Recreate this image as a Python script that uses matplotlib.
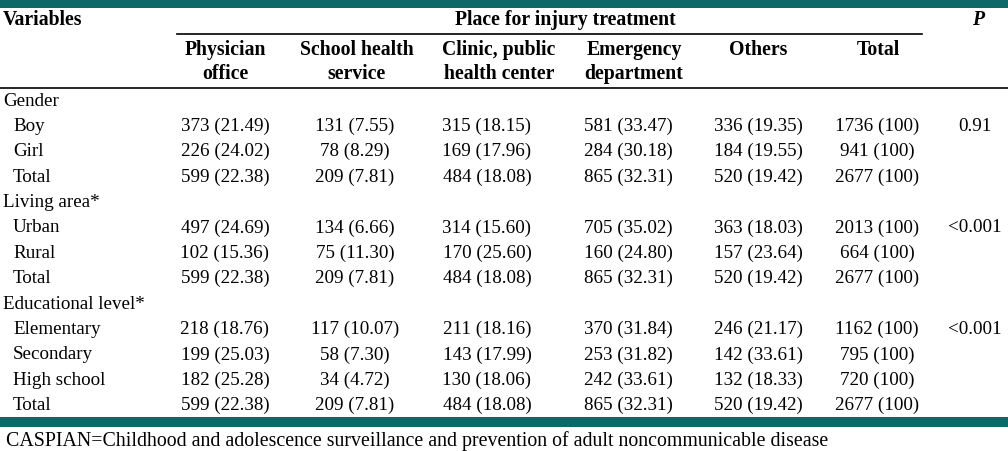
import matplotlib
matplotlib.use("Agg")
import matplotlib.pyplot as plt
from matplotlib.patches import Rectangle

plt.rcParams['font.family'] = ['Liberation Serif', 'DejaVu Serif']

# 表格数据
groups = ["Gender", "Living area*", "Educational level*"]
subgroups = [["Boy", "Girl", "Total"],
             ["Urban", "Rural", "Total"],
             ["Elementary", "Secondary", "High school", "Total"]]
col_headers = ["Physician\noffice", "School health\nservice", "Clinic, public\nhealth center",
               "Emergency\ndepartment", "Others", "Total"]

physician_n = [373, 226, 599, 497, 102, 599, 218, 199, 182, 599]
physician_pct = [21.49, 24.02, 22.38, 24.69, 15.36, 22.38, 18.76, 25.03, 25.28, 22.38]
school_n = [131, 78, 209, 134, 75, 209, 117, 58, 34, 209]
school_pct = [7.55, 8.29, 7.81, 6.66, 11.30, 7.81, 10.07, 7.30, 4.72, 7.81]
clinic_n = [315, 169, 484, 314, 170, 484, 211, 143, 130, 484]
clinic_pct = [18.15, 17.96, 18.08, 15.60, 25.60, 18.08, 18.16, 17.99, 18.06, 18.08]
emergency_n = [581, 284, 865, 705, 160, 865, 370, 253, 242, 865]
emergency_pct = [33.47, 30.18, 32.31, 35.02, 24.80, 32.31, 31.84, 31.82, 33.61, 32.31]
others_n = [336, 184, 520, 363, 157, 520, 246, 142, 132, 520]
others_pct = [19.35, 19.55, 19.42, 18.03, 23.64, 19.42, 21.17, 33.61, 18.33, 19.42]
total_n = [1736, 941, 2677, 2013, 664, 2677, 1162, 795, 720, 2677]
p_values = ["0.91", "", "", "<0.001", "", "", "<0.001", "", "", ""]

footnote = "CASPIAN=Childhood and adolescence surveillance and prevention of adult noncommunicable disease"

# 布局（像素坐标）
W, H = 1008, 452
teal = "#0e6868"
fs = 13.7
fs_head = 14.2
header_x = [225, 357, 499, 634, 758, 878]
value_x = [225, 355, 487, 628, 758, 877]
p_x = 975

fig = plt.figure(figsize=(W / 100, H / 100), dpi=100)
ax = fig.add_axes([0, 0, 1, 1])
ax.set_xlim(0, W)
ax.set_ylim(H, 0)
ax.axis('off')

# 顶部和底部色条
ax.add_patch(Rectangle((0, 0), W, 9, color=teal, lw=0))
ax.add_patch(Rectangle((0, 418), W, 10, color=teal, lw=0))

# 表头
ax.text(3, 20, "Variables", fontsize=fs_head, fontweight='bold', va='center', ha='left')
ax.text(565, 20, "Place for injury treatment", fontsize=fs_head, fontweight='bold', va='center', ha='center')
ax.text(978, 20, "P", fontsize=fs_head, fontweight='bold', style='italic', va='center', ha='center')
ax.plot([177, 922], [35, 35], color='black', lw=1.2)
for x, h in zip(header_x, col_headers):
    for k, line in enumerate(h.split("\n")):
        ax.text(x, 50 + 24 * k, line, fontsize=fs_head, fontweight='bold', va='center', ha='center')
ax.plot([0, W], [89, 89], color='black', lw=1.2)

# 表体
cols = [(physician_n, physician_pct), (school_n, school_pct), (clinic_n, clinic_pct),
        (emergency_n, emergency_pct), (others_n, others_pct)]
y = 101
step = 25.4
i = 0
for g, subs in zip(groups, subgroups):
    ax.text(3, y, g, fontsize=fs, va='center', ha='left')
    y += step
    for s in subs:
        ax.text(13, y, s, fontsize=fs, va='center', ha='left')
        for x, (n, p) in zip(value_x, cols):
            ax.text(x, y, f"{n[i]} ({p[i]:.2f})", fontsize=fs, va='center', ha='center')
        ax.text(value_x[5], y, f"{total_n[i]} (100)", fontsize=fs, va='center', ha='center')
        if p_values[i]:
            ax.text(p_x, y, p_values[i], fontsize=fs, va='center', ha='center')
        y += step
        i += 1

ax.text(6, 441, footnote, fontsize=14.3, va='center', ha='left')

fig.savefig("out.png", dpi=100)
